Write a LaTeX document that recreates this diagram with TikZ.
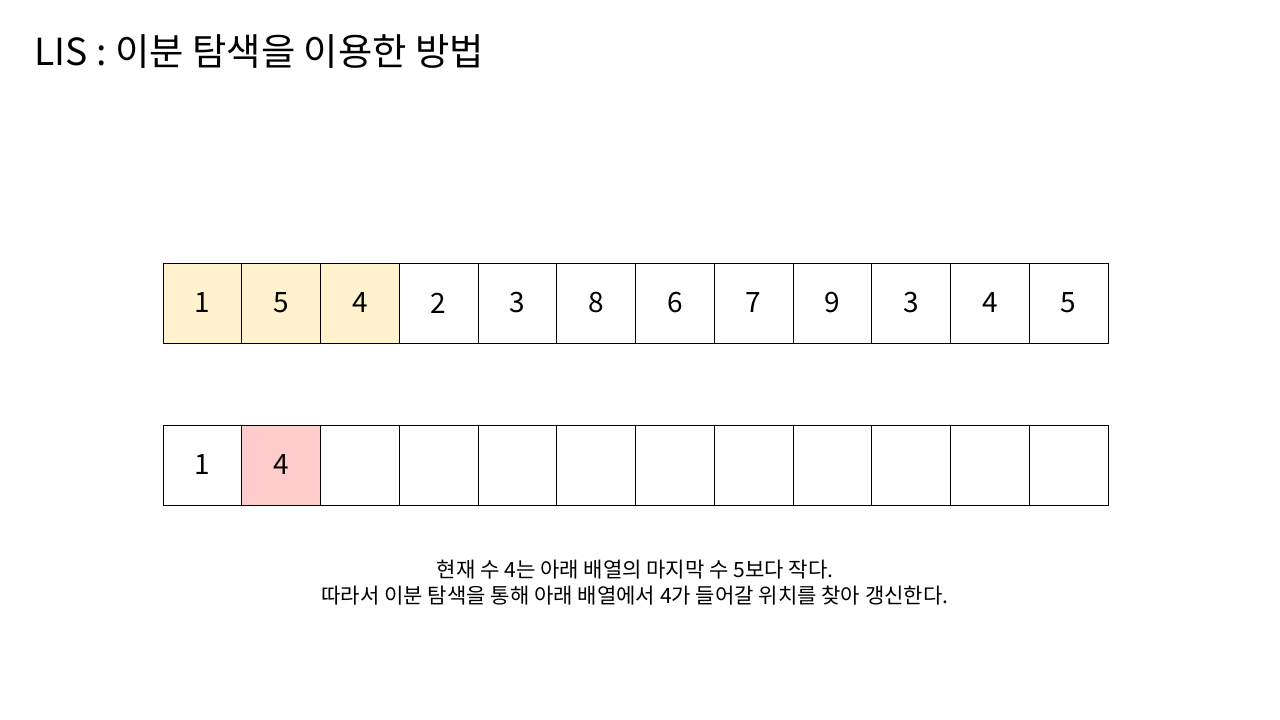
\documentclass[tikz,border=0pt]{standalone}
\usepackage{fontspec}
\setmainfont{Noto Sans CJK KR}
\definecolor{lisyellow}{HTML}{FFF2CC}
\definecolor{lispink}{HTML}{FFCCCC}
\tikzset{
  cell/.style={draw, line width=0.6pt, minimum width=59.06pt, minimum height=60pt, inner sep=0pt, font=\fontsize{21}{24}\selectfont},
  usedcell/.style={cell, fill=lisyellow},
  newcell/.style={cell, fill=lispink}
}
\begin{document}
\begin{tikzpicture}[x=0.75pt,y=-0.75pt]
                    \useasboundingbox (0,0) rectangle (1280,720);

                    \node[anchor=west, font=\fontsize{28}{32}\selectfont] (title) at (30,52) {LIS : 이분 탐색을 이용한 방법};

                    % input array
                    \foreach \v [count=\i] in {1,5,4,2,3,8,6,7,9,3,4,5} {
                        \ifnum\i<4
                            \node[usedcell] (in\i) at ({163+78.75*(\i-0.5)},303) {\v};
                        \else
                            \node[cell] (in\i) at ({163+78.75*(\i-0.5)},303) {\v};
                        \fi
                    }

                    % lis array
                    \node[cell] (lis1) at ({163+78.75*0.5},465) {1};
                    \node[newcell] (lis2) at ({163+78.75*1.5},465) {4};
                    \foreach \i in {3,...,12} {
                        \node[cell] (lis\i) at ({163+78.75*(\i-0.5)},465) {};
                    }

                    \node[align=center, font=\fontsize{15.8}{19.5}\selectfont] (note) at (635,583)
                        {현재 수 4는 아래 배열의 마지막 수 5보다 작다.\\따라서 이분 탐색을 통해 아래 배열에서 4가 들어갈 위치를 찾아 갱신한다.};
\end{tikzpicture}
\end{document}
